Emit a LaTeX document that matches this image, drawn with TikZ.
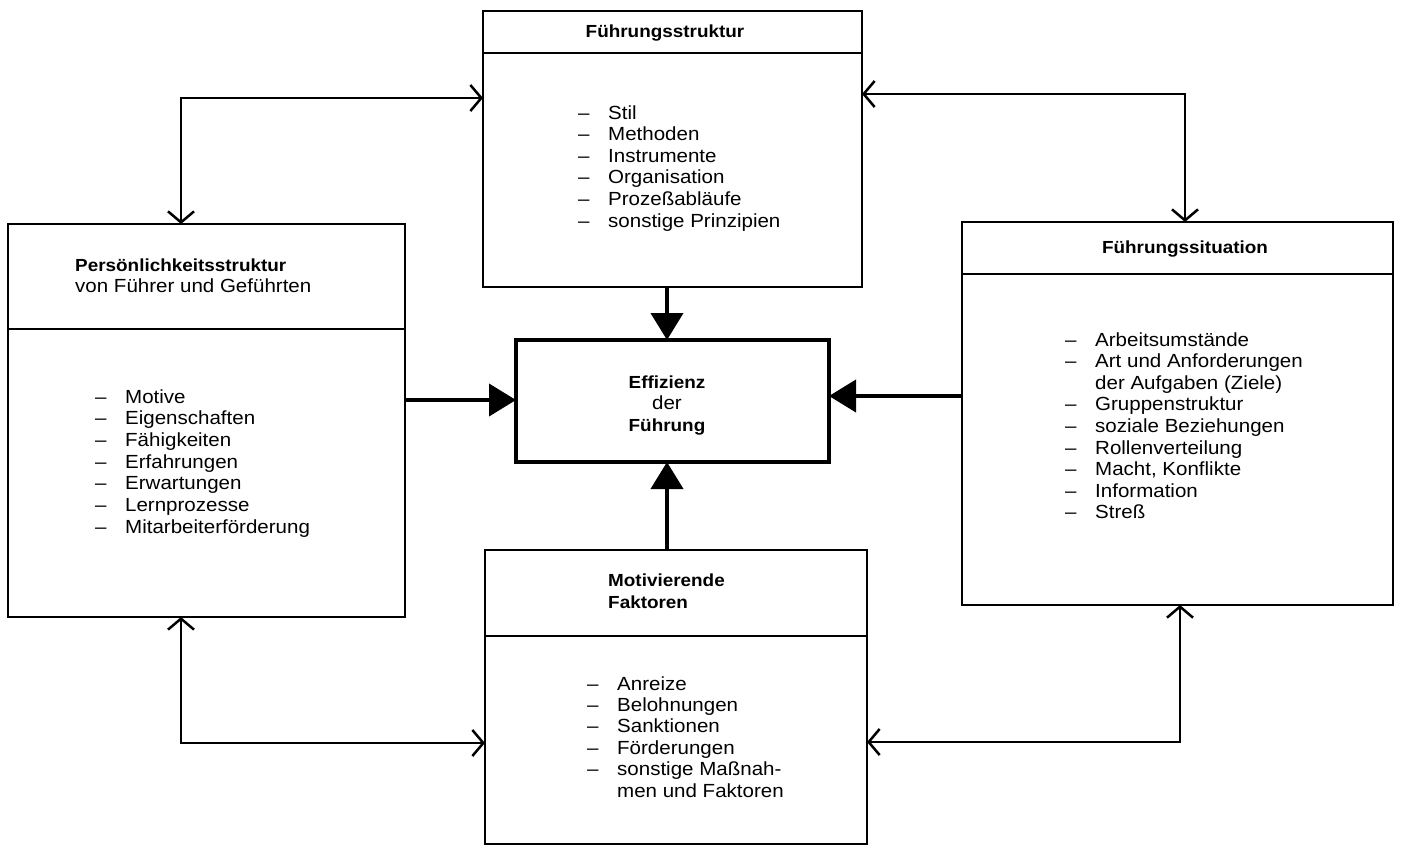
\documentclass[tikz,border=0pt]{standalone}
\usepackage{fontspec}
\setmainfont{Liberation Sans}[FakeStretch=1.08]
\usetikzlibrary{arrows.meta}
\newcommand\dsh{\makebox[30pt][l]{–}}
\newcommand\ind{\hspace*{30pt}}
\tikzset{
  box/.style={draw, line width=2.6pt, inner sep=0pt, outer sep=0pt},
  effbox/.style={draw, line width=4.5pt, inner sep=0pt, outer sep=0pt},
  divider/.style={line width=2.4pt},
  ttl/.style={font=\bfseries\fontsize{17.5}{21}\selectfont, inner sep=0pt},
  sub/.style={font=\fontsize{19}{21.7}\selectfont, inner sep=0pt},
  itm/.style={font=\fontsize{19}{21.7}\selectfont, inner sep=0pt, anchor=base west},
  link/.style={line width=2.5pt, {Straight Barb[length=11pt,width=26pt]}-{Straight Barb[length=11pt,width=26pt]}},
  main/.style={line width=4pt, -{Triangle[length=27pt,width=32pt]}},
}
\begin{document}
\begin{tikzpicture}[x=1pt,y=-1pt]
\useasboundingbox (0,0) rectangle (1403,847);

% boxes
\node[box, minimum width=379pt, minimum height=276pt] (A) at (672.5,149) {};
\node[box, minimum width=397pt, minimum height=393pt] (B) at (206.5,420.5) {};
\node[box, minimum width=431pt, minimum height=383pt] (C) at (1177.5,413.5) {};
\node[box, minimum width=382pt, minimum height=294pt] (D) at (676,697) {};
\node[effbox, minimum width=313pt, minimum height=122pt] (E) at (672.5,401) {};

% dividers
\coordinate (dA) at (0,53);
\coordinate (dB) at (0,329);
\coordinate (dC) at (0,274);
\coordinate (dD) at (0,636);
\draw[divider] (A.west |- dA) -- (A.east |- dA);
\draw[divider] (B.west |- dB) -- (B.east |- dB);
\draw[divider] (C.west |- dC) -- (C.east |- dC);
\draw[divider] (D.west |- dD) -- (D.east |- dD);

% titles
\node[ttl, anchor=base] (tA) at (665,37) {Führungsstruktur};
\node[ttl, anchor=base west] (tB1) at (75,271) {Persönlichkeitsstruktur};
\node[sub, anchor=base west] (tB2) at (75,292) {von Führer und Geführten};
\node[ttl, anchor=base] (tC) at (1185,253) {Führungssituation};
\node[ttl, anchor=base west] (tD1) at (608,586) {Motivierende};
\node[ttl, anchor=base west] (tD2) at (608,608) {Faktoren};
\node[ttl, anchor=base] (tE1) at (667,388) {Effizienz};
\node[sub, anchor=base] (tE2) at (667,409) {der};
\node[ttl, anchor=base] (tE3) at (667,431) {Führung};

% lists
\foreach \t [count=\i from 0] in {\dsh Stil,\dsh Methoden,\dsh Instrumente,\dsh Organisation,\dsh Prozeßabläufe,\dsh sonstige Prinzipien}
  \node[itm] (a\i) at (578,119+\i*21.6) {\t};
\foreach \t [count=\i from 0] in {\dsh Motive,\dsh Eigenschaften,\dsh Fähigkeiten,\dsh Erfahrungen,\dsh Erwartungen,\dsh Lernprozesse,\dsh Mitarbeiterförderung}
  \node[itm] (b\i) at (95,403+\i*21.7) {\t};
\foreach \t [count=\i from 0] in {\dsh Arbeitsumstände,\dsh Art und Anforderungen,\ind der Aufgaben (Ziele),\dsh Gruppenstruktur,\dsh soziale Beziehungen,\dsh Rollenverteilung,{\dsh Macht, Konflikte},\dsh Information,\dsh Streß}
  \node[itm] (c\i) at (1065,346+\i*21.6) {\t};
\foreach \t [count=\i from 0] in {\dsh Anreize,\dsh Belohnungen,\dsh Sanktionen,\dsh Förderungen,\dsh sonstige Maßnah-,\ind men und Faktoren}
  \node[itm] (d\i) at (587,690+\i*21.4) {\t};

% two-headed connectors
\coordinate (k1) at (181,98);
\coordinate (k2) at (1185,94);
\coordinate (k3) at (181,743);
\coordinate (k4) at (1180,742);
\draw[link] (B.north -| k1) |- (A.west |- k1);
\draw[link] (A.east |- k2) -| (C.north -| k2);
\draw[link] (B.south -| k3) |- (D.west |- k3);
\draw[link] (D.east |- k4) -| (C.south -| k4);

% arrows into the centre
\coordinate (k5) at (667,0);
\coordinate (k6) at (0,400);
\coordinate (k7) at (0,396);
\draw[main] (A.south -| k5) -- (E.north -| k5);
\draw[main] (D.north -| k5) -- (E.south -| k5);
\draw[main] (B.east |- k6) -- (E.west |- k6);
\draw[main] (C.west |- k7) -- (E.east |- k7);
\end{tikzpicture}
\end{document}
